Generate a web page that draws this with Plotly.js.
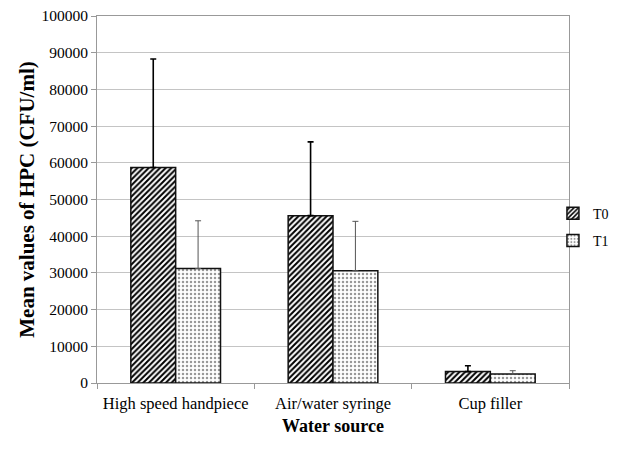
<!DOCTYPE html>
<html><head><meta charset="utf-8">
<script src="https://cdn.plot.ly/plotly-3.0.1.min.js"></script>
<style>html,body{margin:0;padding:0;background:#fff}#chart{width:630px;height:456px}</style>
</head><body><div id="chart"></div>
<script>
const categories = ["High speed handpiece", "Air/water syringe", "Cup filler"];
const seriesNames = ["T0", "T1"];
const t0Values = [58700, 45600, 3100];
const t0ErrPlus = [29600, 20100, 1600];
const t1Values = [31200, 30600, 2450];
const t1ErrPlus = [13000, 13450, 900];
const yTicks = [0,10000,20000,30000,40000,50000,60000,70000,80000,90000,100000];

const font = "Liberation Serif";
const traces = [
  {type:'bar', name:seriesNames[0], x:categories, y:t0Values, legendgroup:'a',
   marker:{color:'#ffffff', line:{color:'#111', width:1.5},
     pattern:{shape:'/', fgcolor:'#000', bgcolor:'#fff', size:4, solidity:0.5}},
   error_y:{type:'data', symmetric:false, array:t0ErrPlus, arrayminus:[0,0,0], color:'#000', thickness:1.6, width:3}},
  {type:'bar', name:seriesNames[1], x:categories, y:t1Values, legendgroup:'b',
   marker:{color:'#ffffff', line:{color:'#111', width:1.5},
     pattern:{shape:'.', fgcolor:'#999', bgcolor:'#fff', size:4, solidity:0.3}},
   error_y:{type:'data', symmetric:false, array:t1ErrPlus, arrayminus:[0,0,0], color:'#555', thickness:1, width:3}}
];
const layout = {
  width:630, height:456,
  margin:{l:97, r:61, t:16, b:73},
  paper_bgcolor:'#fff', plot_bgcolor:'#fff',
  barmode:'group', bargap:0.43, bargroupgap:0,
  font:{family:font, color:'#000'},
  showlegend:true,
  legend:{x:0.966, y:0.505, xanchor:'left', yanchor:'top', bgcolor:'rgba(0,0,0,0)',
    font:{family:font, size:14}, traceorder:'grouped', tracegroupgap:6},
  xaxis:{type:'category', tickson:'boundaries', ticks:'outside', ticklen:5, tickcolor:'#999', tickangle:0,
    ticklabelstandoff:5,
    showline:true, linecolor:'#999', linewidth:1, mirror:true, showgrid:false,
    tickfont:{family:font, size:16.5}, title:{text:'<b>Water source</b>', font:{family:font, size:18}, standoff:7}},
  yaxis:{range:[0,100000], tickvals:yTicks, ticktext:yTicks.map(String), ticks:'outside', ticklen:5, tickcolor:'#999',
    showline:true, linecolor:'#999', linewidth:1, mirror:true,
    showgrid:true, gridcolor:'#c4c4c4', gridwidth:1, zeroline:false,
    tickfont:{family:font, size:15.5}, title:{text:'<b>Mean values of HPC (CFU/ml)</b>', font:{family:font, size:21}, standoff:1}}
};
Plotly.newPlot('chart', traces, layout, {displayModeBar:false, staticPlot:true});
</script></body></html>
